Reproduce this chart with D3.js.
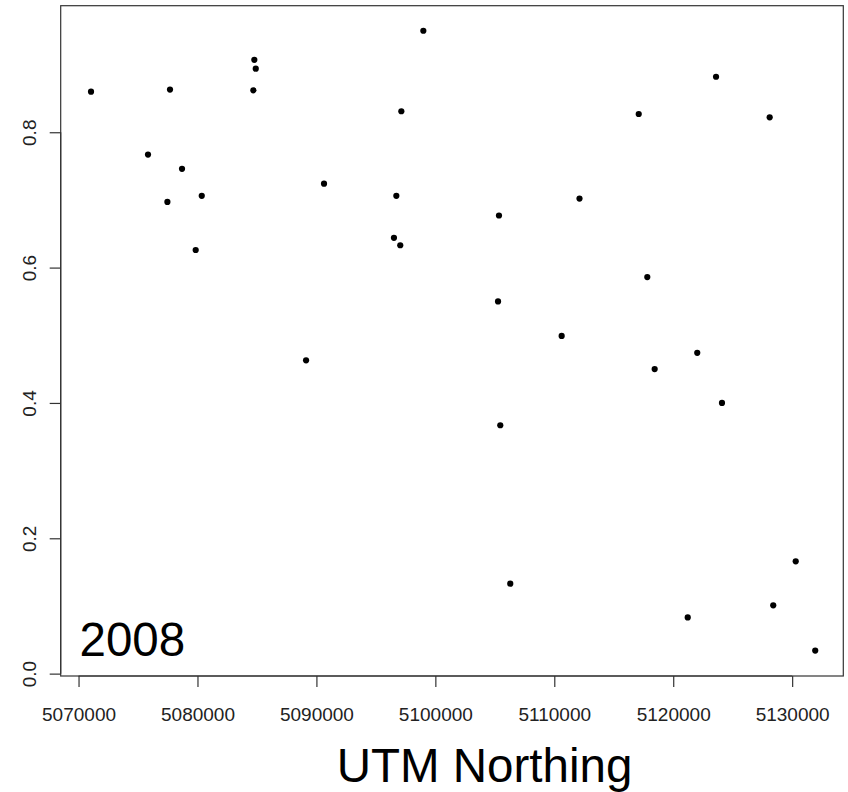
<!DOCTYPE html>
<html>
<head>
<meta charset="utf-8">
<script src="https://cdn.jsdelivr.net/npm/d3@7"></script>
<style>
  html, body { margin: 0; padding: 0; background: #fff; }
  svg { display: block; font-family: "Liberation Sans", Arial, sans-serif; }
</style>
</head>
<body>
<svg id="chart" width="848" height="792"></svg>
<script>
// Site positions (UTM northing, m) and the measured proportion at each site, 2008
const northing = [
  5071050, 5075840, 5077690, 5077470, 5078700, 5079850, 5080360, 5084780,
  5084900, 5084700, 5089130, 5090640, 5096520, 5096720, 5097050, 5097140,
  5098990, 5105270, 5105350, 5105460, 5106300, 5110620, 5112120, 5117100,
  5117820, 5118440, 5121220, 5122020, 5123600, 5124100, 5128110, 5128410,
  5130300, 5131940
];
const proportion = [
  0.860, 0.767, 0.863, 0.697, 0.746, 0.626, 0.706, 0.907,
  0.894, 0.862, 0.463, 0.724, 0.644, 0.706, 0.633, 0.831,
  0.950, 0.550, 0.677, 0.367, 0.133, 0.499, 0.702, 0.827,
  0.586, 0.450, 0.083, 0.474, 0.882, 0.400, 0.822, 0.101,
  0.166, 0.034
];
const xTicks = [5070000, 5080000, 5090000, 5100000, 5110000, 5120000, 5130000];
const yTicks = [0.0, 0.2, 0.4, 0.6, 0.8];
const yearLabel = "2008";
const xTitle = "UTM Northing";

const svg = d3.select("#chart");
const box = { left: 60.7, right: 843.3, top: 5.7, bottom: 676 };

const x = d3.scaleLinear().domain([5068500, 5134300]).range([box.left, box.right]);
const y = d3.scaleLinear().domain([-0.0035, 0.987]).range([box.bottom, box.top]);

// plot frame
svg.append("rect")
  .attr("x", box.left).attr("y", box.top)
  .attr("width", box.right - box.left).attr("height", box.bottom - box.top)
  .attr("fill", "none").attr("stroke", "#333").attr("stroke-width", 1.2);

// bottom axis
const xAxis = svg.append("g")
  .attr("transform", `translate(0,${box.bottom})`)
  .call(d3.axisBottom(x).tickValues(xTicks).tickFormat(d3.format("d"))
    .tickSize(11).tickSizeOuter(0));
xAxis.select(".domain")
  .attr("d", `M${x(xTicks[0])},0H${x(xTicks[xTicks.length - 1])}`)
  .attr("stroke", "#333").attr("stroke-width", 1.2);
xAxis.selectAll(".tick line").attr("stroke", "#333").attr("stroke-width", 1.2);
xAxis.selectAll(".tick text")
  .attr("font-family", "Liberation Sans, Arial, sans-serif")
  .attr("font-size", 19).attr("fill", "#222").attr("dy", null)
  .attr("y", 45);

// left axis with rotated labels
const yAxis = svg.append("g")
  .attr("transform", `translate(${box.left},0)`)
  .call(d3.axisLeft(y).tickValues(yTicks).tickFormat(d3.format(".1f"))
    .tickSize(11).tickSizeOuter(0));
yAxis.select(".domain")
  .attr("d", `M0,${y(yTicks[0])}V${y(yTicks[yTicks.length - 1])}`)
  .attr("stroke", "#333").attr("stroke-width", 1.2);
yAxis.selectAll(".tick line").attr("stroke", "#333").attr("stroke-width", 1.2);
yAxis.selectAll(".tick text")
  .attr("font-family", "Liberation Sans, Arial, sans-serif")
  .attr("font-size", 19).attr("fill", "#222")
  .attr("x", null).attr("dy", null)
  .attr("text-anchor", "middle")
  .attr("dominant-baseline", "central")
  .attr("transform", "translate(-31.2,0) rotate(-90)");

// sites
svg.append("g").selectAll("circle")
  .data(northing.map((n, i) => ({ n, p: proportion[i] })))
  .join("circle")
  .attr("cx", d => x(d.n))
  .attr("cy", d => y(d.p))
  .attr("r", 3.1)
  .attr("fill", "#000");

// year label inside the panel
svg.append("text")
  .attr("x", 79.5).attr("y", 655.5)
  .attr("font-size", 47.5).attr("fill", "#000")
  .text(yearLabel);

// axis title
svg.append("text")
  .attr("x", 484.5).attr("y", 781.5)
  .attr("text-anchor", "middle")
  .attr("font-size", 47.5).attr("fill", "#000")
  .text(xTitle);
</script>
</body>
</html>
